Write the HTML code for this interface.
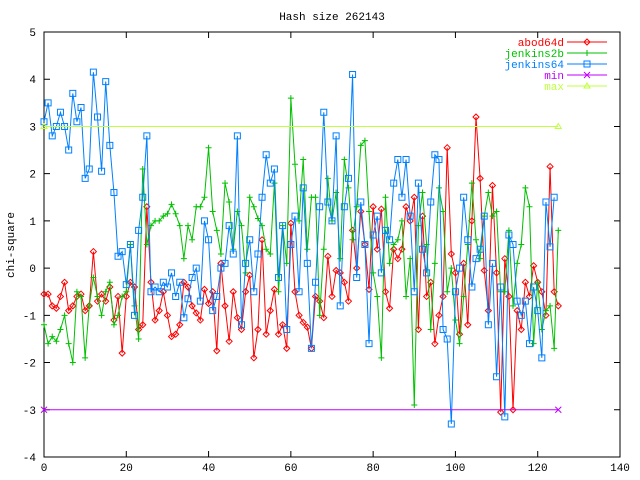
<!DOCTYPE html>
<html><head><meta charset="utf-8"><style>
body{margin:0;background:#fff}
svg{display:block;font-family:"Liberation Mono",monospace;font-size:11px}
</style></head><body>
<svg id="chart" width="640" height="480" xmlns="http://www.w3.org/2000/svg">
<rect width="640" height="480" fill="#fff"/>
<text x="332" y="20" text-anchor="middle">Hash size 262143</text>
<text transform="translate(14,245) rotate(-90)" text-anchor="middle">chi-square</text>
<g id="axes"></g><g id="series"></g><g id="legend"></g>
</svg>
<script>
const xTicks=[0,20,40,60,80,100,120,140];
const yTicks=[-4,-3,-2,-1,0,1,2,3,4,5];
const abod64d=[-0.55,-0.55,-0.8,-0.85,-0.6,-0.3,-0.9,-0.8,-0.6,-0.55,-0.9,-0.8,0.35,-0.7,-0.55,-0.7,-0.4,-1.1,-0.6,-1.8,-0.6,-0.3,-0.4,-1.3,-1.2,1.3,-0.3,-1.1,-0.9,-0.5,-1.0,-1.45,-1.4,-1.2,-0.3,-0.4,-0.8,-0.95,-1.1,-0.45,-0.75,-0.5,-1.75,0.1,-0.8,-1.55,-0.5,-1.05,-1.3,-0.5,-0.15,-1.9,-1.3,0.6,-1.4,-0.9,-0.45,-1.4,-1.2,-1.7,0.95,-0.5,-1.0,-1.15,-1.25,-1.7,-0.6,-0.7,-1.05,0.25,-0.6,-0.05,-0.1,-0.3,-0.7,0.8,0.0,1.2,0.5,-0.45,1.3,0.4,1.25,-0.5,-0.85,0.4,0.2,0.4,1.3,1.0,1.5,-1.3,1.1,-0.6,-0.3,-1.6,-1.0,-0.6,2.55,0.3,-0.1,-1.4,0.1,-1.2,1.0,3.2,1.9,-0.05,-0.9,1.75,-0.1,-3.05,0.2,-0.6,-3.0,-0.9,-1.3,-0.3,-0.6,0.05,-0.3,-0.5,-1.0,2.15,-0.5,-0.8];
const jenkins2b=[-1.2,-1.6,-1.45,-1.55,-1.3,-1.0,-1.6,-2.0,-0.5,-0.6,-1.9,-0.8,-0.2,-0.6,-1.0,-0.5,-0.3,-1.2,-1.0,-0.6,-0.5,0.5,-0.8,-1.5,2.1,0.5,0.9,1.0,1.0,1.1,1.15,1.35,1.15,0.9,0.2,0.9,0.6,1.3,1.3,1.5,2.55,1.2,0.8,0.3,1.8,1.4,0.4,1.2,0.9,-0.1,1.5,1.3,1.05,0.9,0.4,0.3,1.8,-0.5,0.9,0.1,3.6,2.2,1.0,2.3,0.4,1.5,1.5,-1.0,0.4,1.9,1.0,1.6,0.2,2.3,1.7,0.6,1.3,2.6,2.7,1.2,-0.1,-0.6,-1.9,1.5,0.1,0.5,0.6,1.0,-0.6,0.2,-2.9,0.9,1.6,0.5,-1.3,0.1,1.7,1.2,-0.5,0.0,-1.1,-1.6,-0.6,0.5,1.8,0.6,0.2,1.1,1.6,1.1,1.2,-0.5,-0.5,0.8,-0.8,0.1,0.5,1.7,1.3,-1.6,-0.3,-1.3,-0.9,-0.8,-1.7,0.8];
const jenkins64=[3.1,3.5,2.8,3.0,3.3,3.0,2.5,3.7,3.1,3.4,1.9,2.1,4.15,3.2,2.05,3.95,2.6,1.6,0.25,0.35,-0.35,0.5,-1.0,0.8,1.5,2.8,-0.5,-0.4,-0.5,-0.3,-0.4,-0.1,-0.6,-0.3,-1.05,-0.65,-0.2,0.0,-0.7,1.0,0.6,-0.9,-0.6,0.0,0.1,0.9,0.3,2.8,-1.2,0.1,0.6,-0.5,0.3,1.5,2.4,1.8,2.1,-0.2,0.9,-1.3,0.5,1.1,-0.5,1.7,0.1,-1.7,-0.3,1.3,3.3,1.4,1.0,2.8,-0.8,1.3,1.9,4.1,-0.2,1.4,0.5,-1.6,0.7,1.1,-0.1,0.8,0.6,1.8,2.3,1.5,2.3,1.1,-0.5,1.8,0.4,-0.1,1.4,2.4,2.3,-1.3,-1.5,-3.3,-0.5,0.0,1.5,0.6,-0.4,0.2,0.4,1.1,-1.2,0.1,-2.3,-0.4,-3.15,0.7,0.5,-0.7,-1.0,-0.7,-1.6,-0.4,-0.9,-1.9,1.4,0.45,1.5];
const minLine=[-3,-3];
const maxLine=[3,3];
const lineX=[0,125];

const NS="http://www.w3.org/2000/svg";
const L=44,R=620,T=32,B=457;
const sx=v=>L+(v-0)/(140-0)*(R-L);
const sy=v=>B-(v+4)/9*(B-T);
function mk(tag,attrs,parent){const e=document.createElementNS(NS,tag);for(const k in attrs)e.setAttribute(k,attrs[k]);parent.appendChild(e);return e;}
const axes=document.getElementById('axes'),series=document.getElementById('series'),legend=document.getElementById('legend');
const frame=mk('rect',{x:L,y:T,width:R-L,height:B-T,fill:'none',stroke:'#000','stroke-width':1},axes);


xTicks.forEach(t=>{const x=sx(t);
 const a=mk('path',{d:`M${x},${B}v-6M${x},${T}v6`,stroke:'#000'},axes);
 
 
 const tx=mk('text',{x:x,y:B+14,'text-anchor':'middle'},axes);tx.textContent=t;
 
 });
yTicks.forEach(t=>{const y=sy(t);
 const a=mk('path',{d:`M${L},${y}h6M${R},${y}h-6`,stroke:'#000'},axes);
 
 
 const tx=mk('text',{x:L-8,y:y+4,'text-anchor':'end'},axes);tx.textContent=t;
 
 });
function marker(type,x,y,c,g){
 let d;
 if(type==='diamond')d=`M${x-3},${y}L${x},${y-3}L${x+3},${y}L${x},${y+3}Z`;
 else if(type==='plus')d=`M${x-3},${y}h6M${x},${y-3}v6`;
 else if(type==='square')d=`M${x-3},${y-3}h6v6h-6Z`;
 else if(type==='x')d=`M${x-3},${y-3}l6,6M${x+3},${y-3}l-6,6`;
 else d=`M${x-3},${y+2}L${x},${y-3}L${x+3},${y+2}Z`;
 const m=mk('path',{d:d,stroke:c,fill:'none','stroke-width':1},g);
 
 }
function draw(name,vals,xs,c,type){
 const g=mk('g',{},series);
 
 
 const pts=vals.map((v,i)=>[sx(xs?xs[i]:i),sy(v)]);
 const p=mk('polyline',{points:pts.map(q=>q.join(',')).join(' '),fill:'none',stroke:c,'stroke-width':1},g);
 
 
 pts.forEach(q=>marker(type,q[0],q[1],c,g));}
draw('abod64d',abod64d,null,'#ff0000','diamond');
draw('jenkins2b',jenkins2b,null,'#00c000','plus');
draw('jenkins64',jenkins64,null,'#0080ff','square');
draw('min',minLine,lineX,'#c000ff','x');
draw('max',maxLine,lineX,'#c0ff40','triangle');
const leg=[['abod64d','#ff0000','diamond'],['jenkins2b','#00c000','plus'],['jenkins64','#0080ff','square'],['min','#c000ff','x'],['max','#c0ff40','triangle']];
leg.forEach((l,i)=>{const y=42+i*11;
 const g=mk('g',{},legend);
 
 
 const t=mk('text',{x:564,y:y+4,'text-anchor':'end',fill:l[1]},g);t.textContent=l[0];
 mk('line',{x1:567,y1:y,x2:607,y2:y,stroke:l[1]},g);
 marker(l[2],587,y,l[1],g);});
</script>
</body></html>
